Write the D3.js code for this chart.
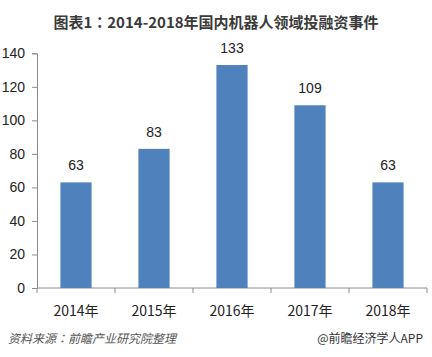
<!DOCTYPE html>
<html><head><meta charset="utf-8">
<script src="https://cdn.jsdelivr.net/npm/d3@7"></script>
<style>
body{margin:0;background:#fff;}
svg{display:block;font-family:"Microsoft YaHei","Noto Sans CJK SC","Noto Sans",sans-serif;}
</style></head>
<body>
<svg id="c" width="432" height="357"></svg>
<script>
const categories = ["2014年","2015年","2016年","2017年","2018年"];
const values = [63, 83, 133, 109, 63];
const yTicks = [0,20,40,60,80,100,120,140];
const titleParts = ["图表1", "：", "2014-2018年国内机器人领域投融资事件"];
const sourceParts = ["资料来源", "：", "前瞻产业研究院整理"];
const brandText = "@前瞻经济学人APP";

(function(){
const svg = d3.select("#c");
const mLeft = 37, mRight = 427, mTop = 53.3, mBottom = 288;
const x = d3.scaleBand().domain(categories).range([mLeft, mRight]).paddingInner(0.6).paddingOuter(0.3);
const y = d3.scaleLinear().domain([0, 140]).range([mBottom, mTop]);
const axisColor = "#8c8c8c";

function partsText(sel, parts) {
  parts.forEach((p, i) => {
    const t = sel.append("tspan").text(p);
    if (i === 1) t.attr("font-family", "'Noto Sans CJK TC', sans-serif");
  });
}

const title = svg.append("text").attr("x", 216).attr("y", 28).attr("text-anchor", "middle")
  .attr("font-size", 15).attr("font-weight", "bold").attr("fill", "#3a3a3a");
partsText(title, titleParts);

// y axis
const ya = svg.append("g").attr("transform", `translate(${mLeft},0)`)
  .call(d3.axisLeft(y).tickValues(yTicks).tickSize(5).tickPadding(7));
ya.selectAll("path,line").attr("stroke", axisColor);
ya.selectAll("text").attr("font-size", 14).attr("fill", "#222").attr("font-family", "Arial, 'Liberation Sans', sans-serif");

// x axis
const xg = svg.append("g");
xg.append("line").attr("x1", mLeft).attr("x2", mRight).attr("y1", mBottom).attr("y2", mBottom).attr("stroke", axisColor);
const bounds = d3.range(categories.length + 1).map(i => mLeft + (mRight - mLeft) * i / categories.length);
xg.selectAll("line.tk").data(bounds).join("line").attr("class","tk")
  .attr("x1", d => d).attr("x2", d => d).attr("y1", mBottom).attr("y2", mBottom + 5).attr("stroke", axisColor);
xg.selectAll("text").data(categories).join("text")
  .attr("x", d => x(d) + x.bandwidth() / 2).attr("y", 316).attr("text-anchor", "middle")
  .attr("font-size", 14).attr("fill", "#222").text(d => d);

// bars
svg.selectAll("rect.bar").data(values).join("rect").attr("class","bar")
  .attr("x", (d, i) => x(categories[i])).attr("width", x.bandwidth())
  .attr("y", d => y(d)).attr("height", d => mBottom - y(d)).attr("fill", "#4F81BD");

svg.selectAll("text.lbl").data(values).join("text").attr("class","lbl")
  .attr("x", (d, i) => x(categories[i]) + x.bandwidth() / 2).attr("y", d => y(d) - 12)
  .attr("text-anchor", "middle").attr("font-size", 14).attr("fill", "#222")
  .attr("font-family", "Arial, 'Liberation Sans', sans-serif").text(d => d);

const src = svg.append("text").attr("x", 8).attr("y", 343).attr("font-size", 12).attr("font-style", "italic")
  .attr("fill", "#555");
partsText(src, sourceParts);
svg.append("text").attr("x", 423).attr("y", 343).attr("text-anchor", "end").attr("font-size", 12)
  .attr("fill", "#333").text(brandText);
})();
</script>
</body></html>
